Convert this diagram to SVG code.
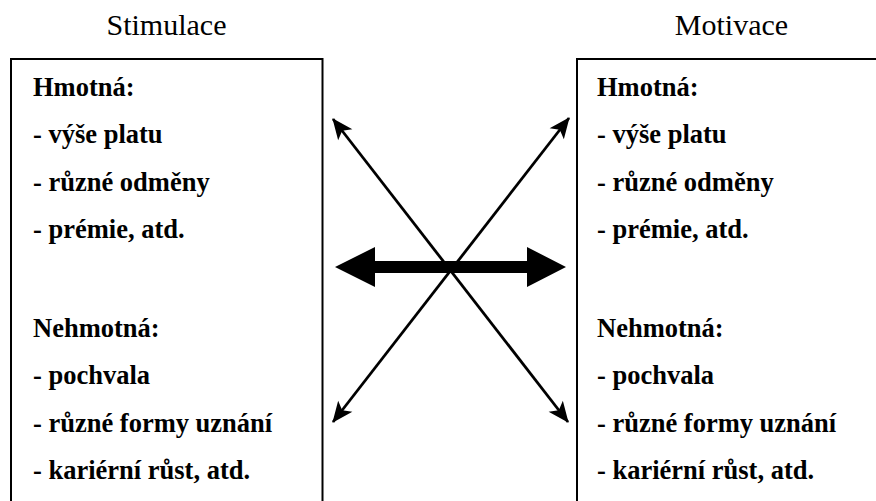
<svg xmlns="http://www.w3.org/2000/svg" width="876" height="501" viewBox="0 0 876 501">
<style>
.title{font-family:"Liberation Serif","Times New Roman",serif;font-size:30px;fill:#000;text-anchor:middle}
.item{font-family:"Liberation Serif","Times New Roman",serif;font-size:26.5px;font-weight:bold;fill:#000}
.box{fill:#fff;stroke:#000;stroke-width:2}
.thin{stroke:#000;stroke-width:2.8;fill:none}
</style>
<defs>
<marker id="ah" markerUnits="userSpaceOnUse" markerWidth="26" markerHeight="22" viewBox="-22 -11 26 22" refX="0" refY="0" orient="auto-start-reverse">
<path d="M1,0 L-20,-9 L-15,0 L-20,9 Z" fill="#000"/>
</marker>
</defs>
<rect width="876" height="501" fill="#fff"/>
<g id="stimulace">
<text class="title" x="166.5" y="35">Stimulace</text>
<rect class="box" x="11" y="59" width="311.5" height="460"/>
<text class="item" x="33" y="96">Hmotná:</text>
<text class="item" x="33" y="143">- výše platu</text>
<text class="item" x="33" y="191">- různé odměny</text>
<text class="item" x="33" y="238">- prémie, atd.</text>
<text class="item" x="33" y="337">Nehmotná:</text>
<text class="item" x="33" y="384">- pochvala</text>
<text class="item" x="33" y="432">- různé formy uznání</text>
<text class="item" x="33" y="479">- kariérní růst, atd.</text>
</g>
<g id="motivace">
<text class="title" x="731.5" y="35">Motivace</text>
<rect class="box" x="577" y="59" width="320" height="460"/>
<text class="item" x="597" y="96">Hmotná:</text>
<text class="item" x="597" y="143">- výše platu</text>
<text class="item" x="597" y="191">- různé odměny</text>
<text class="item" x="597" y="238">- prémie, atd.</text>
<text class="item" x="597" y="337">Nehmotná:</text>
<text class="item" x="597" y="384">- pochvala</text>
<text class="item" x="597" y="432">- různé formy uznání</text>
<text class="item" x="597" y="479">- kariérní růst, atd.</text>
</g>
<g id="connectors">
<line class="thin" x1="333" y1="119" x2="568" y2="422" marker-start="url(#ah)" marker-end="url(#ah)"/>
<line class="thin" x1="569" y1="118" x2="333" y2="422" marker-start="url(#ah)" marker-end="url(#ah)"/>
<path d="M335,267 L375,247 L375,261 L527,261 L527,247 L566,267 L527,287 L527,273 L375,273 L375,287 Z" fill="#000"/>
</g>
</svg>
